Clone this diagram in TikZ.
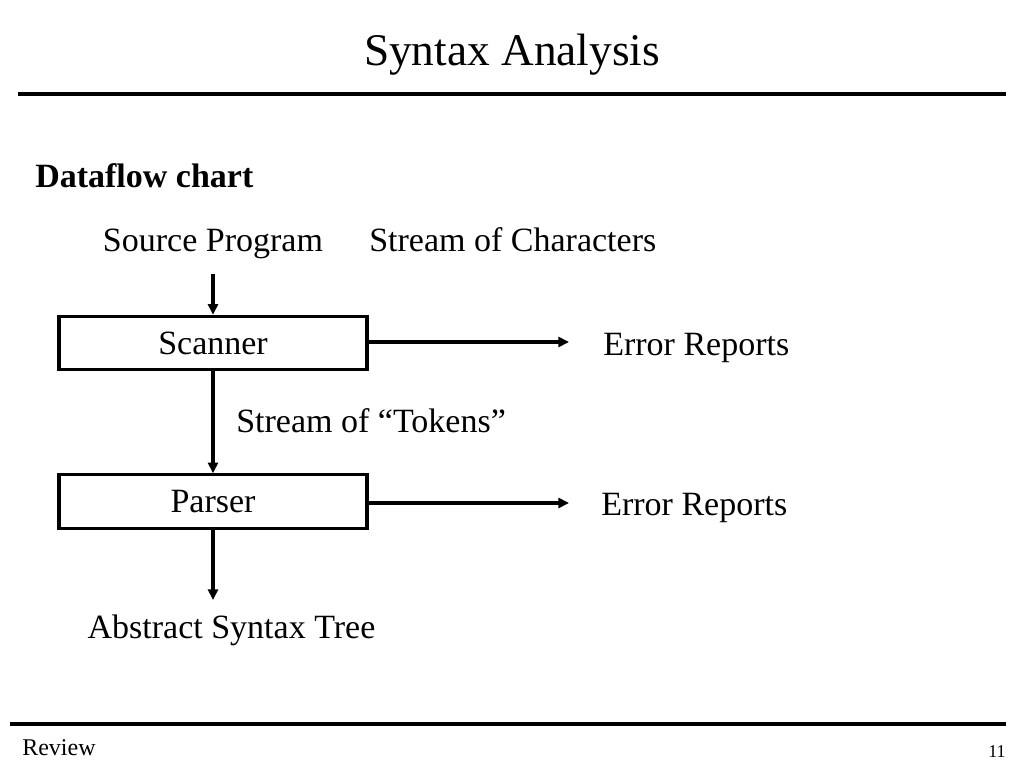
\documentclass[tikz,border=0pt]{standalone}
\usepackage{fontspec}
\setmainfont{Liberation Serif}
\usetikzlibrary{arrows.meta}
\begin{document}
\begin{tikzpicture}[x=0.75pt,y=-0.75pt,
  lbl/.style={inner sep=0pt,anchor=base,font=\fontsize{25.5}{30}\selectfont},
  lblw/.style={lbl,anchor=base west},
  proc/.style={draw,line width=2.4pt,minimum width=231pt,minimum height=40pt,inner sep=0pt,text depth=0pt,font=\fontsize{25.5}{30}\selectfont},
  flow/.style={line width=2.3pt,-{Triangle[length=8pt,width=7.5pt]}},
  rule/.style={line width=2.6pt}]
\useasboundingbox (0,0) rectangle (1024,768);
\node[inner sep=0pt,anchor=base,font=\fontsize{34}{40}\selectfont] (title) at (512,65) {Syntax Analysis};
\coordinate (tl) at (18,94); \coordinate (tr) at (1006,94);
\draw[rule] (tl) -- (tr);
\node[lblw,font=\fontsize{25.5}{30}\selectfont\bfseries] (df) at (35,187) {Dataflow chart};
\node[lbl] (src) at (213,251) {Source Program};
\node[lblw] (soc) at (369,251) {Stream of Characters};
\node[proc] (scan) at (213,343) {Scanner};
\node[proc] (pars) at (213,501.5) {Parser};
\node[lblw] (err1) at (603,355) {Error Reports};
\node[lblw] (err2) at (601,515) {Error Reports};
\node[lblw] (tok) at (236,432) {Stream of ``Tokens''};
\node[lbl] (ast) at (231.5,638) {Abstract Syntax Tree};
\coordinate (srcbot) at (213,274);
\coordinate (e1) at (569,342);
\coordinate (e2) at (569,503);
\coordinate (astop) at (213,600);
\draw[flow] (srcbot) -- (scan.north);
\draw[flow] (scan.east |- e1) -- (e1);
\draw[flow] (scan.south) -- (pars.north);
\draw[flow] (pars.east |- e2) -- (e2);
\draw[flow] (pars.south) -- (astop);
\coordinate (bl) at (10,724); \coordinate (br) at (1006,724);
\draw[line width=3pt] (bl) -- (br);
\node[inner sep=0pt,anchor=base west,font=\fontsize{18}{20}\selectfont] (rev) at (22,755) {Review};
\node[inner sep=0pt,anchor=base east,font=\fontsize{13.5}{16}\selectfont] (pg) at (1006,757) {11};
\end{tikzpicture}
\end{document}
